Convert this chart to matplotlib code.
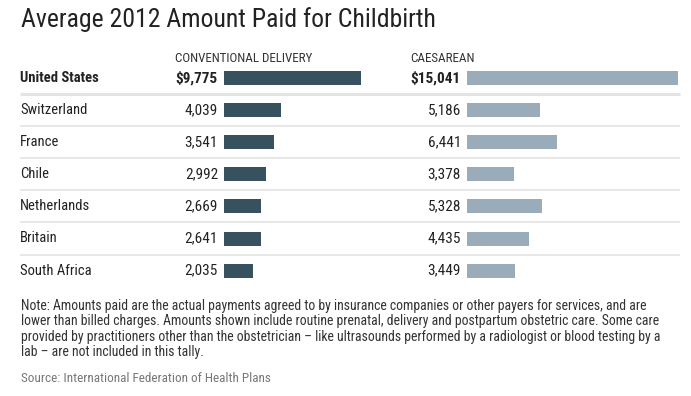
import matplotlib
matplotlib.use("Agg")
import matplotlib.pyplot as plt
from matplotlib import font_manager

# Data
countries = ["United States", "Switzerland", "France", "Chile",
             "Netherlands", "Britain", "South Africa"]
conventional = [9775, 4039, 3541, 2992, 2669, 2641, 2035]
caesarean = [15041, 5186, 6441, 3378, 5328, 4435, 3449]

title = "Average 2012 Amount Paid for Childbirth"
header_conv = "CONVENTIONAL DELIVERY"
header_caes = "CAESAREAN"
note_lines = [
    "Note: Amounts paid are the actual payments agreed to by insurance companies or other payers for services, and are",
    "lower than billed charges. Amounts shown include routine prenatal, delivery and postpartum obstetric care. Some care",
    "provided by practitioners other than the obstetrician \u2013 like ultrasounds performed by a radiologist or blood testing by a",
    "lab \u2013 are not included in this tally.",
]
source = "Source: International Federation of Health Plans"

# pick a narrow font if there is one
available = {f.name for f in font_manager.fontManager.ttflist}
font = "DejaVu Sans"
for name in ["Liberation Sans Narrow", "Roboto Condensed", "Open Sans Condensed", "Liberation Sans"]:
    if name in available:
        font = name
        break
plt.rcParams['font.family'] = [font, 'DejaVu Sans']

W, H = 691, 396
fig = plt.figure(figsize=(W / 100, H / 100), dpi=100)
bg = fig.add_axes([0, 0, 1, 1])
bg.set_xlim(0, W)
bg.set_ylim(H, 0)
bg.axis('off')

dark = "#37515e"
light = "#9aacba"
rows = [78 + i * 32.1 for i in range(len(countries))]

px_per_dollar = 0.01402
max_val = 15500


def bar_axes(left):
    ax = fig.add_axes([left / W, 0, max_val * px_per_dollar / W, 1])
    ax.set_xlim(0, max_val)
    ax.set_ylim(H, 0)
    ax.axis('off')
    return ax


ax1 = bar_axes(224)
ax2 = bar_axes(467)
ax1.barh(rows, conventional, height=14, color=dark, edgecolor='none')
ax2.barh(rows, caesarean, height=14, color=light, edgecolor='none')

for ax, vals in [(ax1, conventional), (ax2, caesarean)]:
    for i, (y, v) in enumerate(zip(rows, vals)):
        lbl = "${:,}".format(v) if i == 0 else "{:,}".format(v)
        ax.annotate(lbl, xy=(0, y), xytext=(-6, 0), textcoords='offset pixels',
                    ha='right', va='center', fontsize=11, color='#222222',
                    fontweight='bold' if i == 0 else 'normal')

for i, (y, c) in enumerate(zip(rows, countries)):
    bg.text(20, y, c, ha='left', va='center', fontsize=10.5, color='#222222',
            fontweight='bold' if i == 0 else 'normal')

# row separators
for i, y in enumerate(rows[:-1]):
    bg.hlines(y + 16, 20, 680, color='#e4e4e4' if i == 0 else '#e0e0e0',
              linewidth=2.2 if i == 0 else 1.1)

bg.text(21, 27, title, ha='left', va='baseline', fontsize=18.5, color='#222222')
bg.text(175, 58, header_conv, ha='left', va='center', fontsize=9.4, color='#333333')
bg.text(410, 58, header_caes, ha='left', va='center', fontsize=9.4, color='#333333')

for j, line in enumerate(note_lines):
    bg.text(21, 306 + 15.3 * j, line, ha='left', va='center', fontsize=9.9, color='#333333')
bg.text(21, 379, source, ha='left', va='center', fontsize=9.5, color='#777777')

fig.savefig("out.png", dpi=100, facecolor='white')
